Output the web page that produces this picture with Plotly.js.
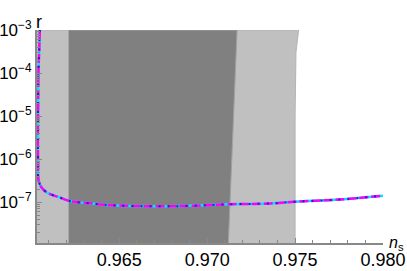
<!DOCTYPE html>
<html><head><meta charset="utf-8">
<script src="https://cdn.plot.ly/plotly-3.0.1.min.js"></script>
<style>html,body{margin:0;padding:0;background:#fff}#c{width:407px;height:271px}</style>
</head><body><div id="c"></div>
<script>
// light band (outer region) boundary
const lightX = [0.96032, 0.97520, 0.97505, 0.97500, 0.97500, 0.96032];
const lightY = [1e-3, 1e-3, 3e-4, 1e-5, 1e-8, 1e-8];
// dark band (inner region) boundary
const darkX = [0.96212, 0.97170, 0.97120, 0.96212];
const darkY = [1e-3, 1e-3, 1e-8, 1e-8];
// r(n_s) curve
const curveX = [0.96048, 0.96044, 0.96040, 0.96038, 0.96037, 0.96038, 0.96041, 0.96061, 0.96097, 0.96153, 0.96222, 0.96318, 0.96449, 0.96602, 0.96790, 0.97000, 0.97114, 0.97358, 0.97500, 0.97750, 0.98000];
const curveY = [1e-3, 3e-4, 1e-4, 1e-5, 4.7e-6, 8.1e-7, 3.2e-7, 2.1e-7, 1.6e-7, 1.32e-7, 1.05e-7, 9.5e-8, 8.5e-8, 8.1e-8, 8.0e-8, 8.5e-8, 8.9e-8, 9.3e-8, 1.02e-7, 1.15e-7, 1.41e-7];
const xTicks = [0.965, 0.970, 0.975, 0.980];
const xTickText = ['0.965', '0.970', '0.975', '0.980'];
const yTicks = [1e-7, 1e-6, 1e-5, 1e-4, 1e-3];
const yTickText = ['10<sup>−7</sup>', '10<sup>−6</sup>', '10<sup>−5</sup>', '10<sup>−4</sup>', '10<sup>−3</sup>'];

const traces = [
  {x: lightX, y: lightY, type: 'scatter', mode: 'lines', fill: 'toself', fillcolor: '#c0c0c0', line: {width: 1, color: '#b4b4b4'}, hoverinfo: 'skip'},
  {x: darkX, y: darkY, type: 'scatter', mode: 'lines', fill: 'toself', fillcolor: '#808080', line: {width: 1, color: '#a0a0a0'}, hoverinfo: 'skip'},
  {x: curveX, y: curveY, type: 'scatter', mode: 'lines', line: {color: '#00e5ff', width: 2.5, shape: 'spline'}},
  {x: curveX, y: curveY, type: 'scatter', mode: 'lines', line: {color: '#ff00ff', width: 2.5, dash: '9px,3px', shape: 'spline'}},
  {x: curveX, y: curveY, type: 'scatter', mode: 'lines', line: {color: '#2020c0', width: 2, dash: '2px,7px', shape: 'spline'}}
];
const font = {family: 'Liberation Sans, Arial, sans-serif', size: 18, color: '#000'};
const yfont = {family: 'Liberation Sans, Arial, sans-serif', size: 17, color: '#000'};
const layout = {
  width: 407, height: 271,
  margin: {l: 37, r: 24, t: 30, b: 28},
  paper_bgcolor: '#fff', plot_bgcolor: '#fff',
  showlegend: false,
  font: font,
  xaxis: {
    range: [0.96032, 0.980], tickvals: xTicks, ticktext: xTickText,
    ticks: 'inside', ticklen: 5, tickcolor: '#888', showgrid: false, zeroline: false,
    showline: true, linecolor: '#888', linewidth: 1.5, ticklabelstandoff: 0,
    minor: {dtick: 0.001, tick0: 0.96, ticks: 'inside', ticklen: 3, tickcolor: '#888', showgrid: false},
    tickfont: font
  },
  yaxis: {
    type: 'log', range: [-7.95, -3], tickvals: yTicks, ticktext: yTickText,
    ticks: 'inside', ticklen: 5, tickcolor: '#888', showgrid: false, zeroline: false,
    showline: true, linecolor: '#888', linewidth: 2, ticklabelstandoff: 0,
    minor: {dtick: 'D1', ticks: 'inside', ticklen: 3, tickcolor: '#888', showgrid: false},
    tickfont: yfont
  },
  annotations: [
    {text: 'r', xref: 'paper', yref: 'paper', x: 0, y: 1, xanchor: 'left', yanchor: 'bottom', showarrow: false, font: font, xshift: -3, yshift: -4},
    {text: '<i>n</i><sub>s</sub>', xref: 'paper', yref: 'paper', x: 1, y: 0, xanchor: 'left', yanchor: 'bottom', showarrow: false, font: {family: font.family, size: 16, color: '#000'}, xshift: 4, yshift: -12}
  ]
};
Plotly.newPlot('c', traces, layout, {staticPlot: true});
</script></body></html>
